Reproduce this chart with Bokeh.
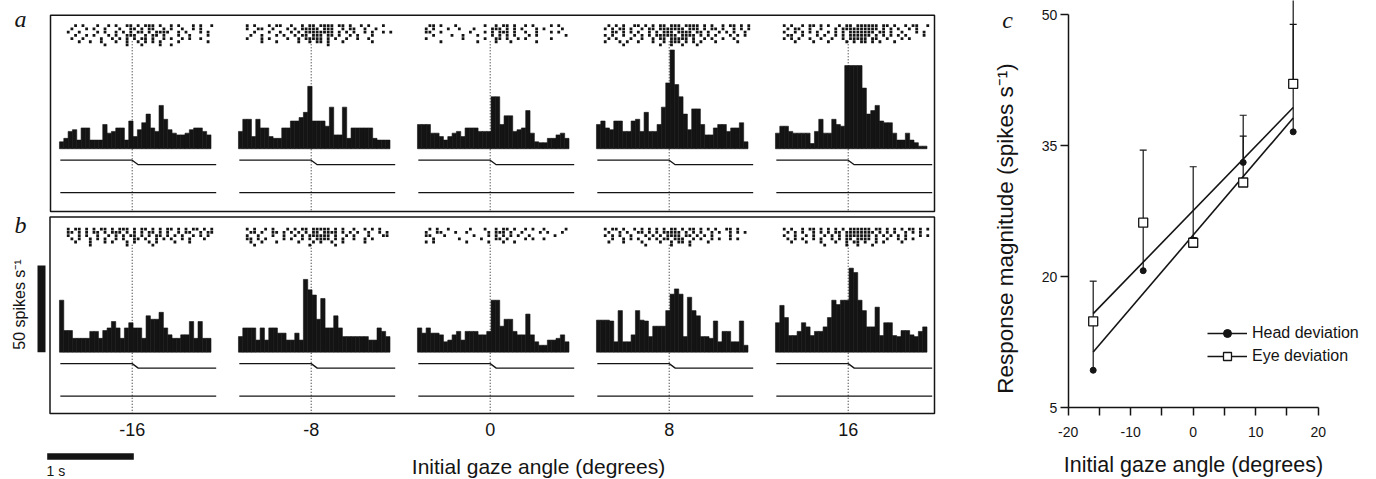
import numpy as np
from bokeh.plotting import figure
from bokeh.layouts import row
from bokeh.models import Range1d, FixedTicker, Legend, LegendItem
from bokeh.core.properties import value
from bokeh.embed import file_html
from bokeh.resources import INLINE

# ---------------- data: panels a / b ----------------
GAZE = [-16, -8, 0, 8, 16]          # initial gaze angle (deg)
BIN_START = -0.84                    # s, histogram start relative to saccade
BIN_W = 0.05                         # s
# peri-saccadic histograms (spikes/s), head deviation (a)
HIST_A = [
    [4, 6, 10, 11, 5, 12, 12, 5, 5, 5, 14, 9, 10, 12, 12, 5, 16, 7, 11, 15, 20, 12, 10, 25, 17, 11, 9, 8, 8, 9, 11, 12, 12, 10, 8],
    [10, 17, 17, 7, 17, 12, 12, 7, 6, 6, 12, 12, 16, 16, 18, 21, 36, 16, 16, 16, 13, 24, 8, 8, 24, 6, 12, 12, 12, 12, 12, 6, 5, 5, 5],
    [14, 14, 14, 9, 9, 7, 5, 7, 9, 10, 7, 12, 12, 12, 10, 10, 10, 30, 30, 14, 19, 19, 10, 11, 12, 22, 9, 4, 3.5, 3.5, 6, 6, 8, 9, 6],
    [14, 16, 12, 11, 16, 16, 10, 10, 16, 17, 10, 21, 10, 10, 14, 24, 38, 57, 37, 30, 20, 11, 23, 23, 14, 8, 8, 12, 14, 14, 10, 12, 12, 15, 4],
    [9, 13, 13, 10, 9, 9, 9, 9, 3, 10, 17, 9, 9, 17, 14, 13, 48, 48, 48, 48, 35, 20, 22, 25, 16, 15, 15, 9, 5, 5, 9, 5, 3.5, 1.5, 1.5],
]
# eye deviation (b)
HIST_B = [
    [30, 12.5, 12.5, 8, 8, 8, 8, 12, 12, 8, 12.5, 14, 17.7, 14, 8, 14, 17, 14, 14, 8, 21, 19, 19, 23, 14, 10, 8, 8, 10, 10, 17.7, 8, 17.7, 8, 8],
    [9, 14, 14, 14, 7, 14, 7, 14, 14, 11, 11, 7, 7, 11, 7, 42, 36, 33, 19, 31, 14, 14, 21, 14, 9, 9, 9, 9, 9, 9, 7, 7, 14, 12, 9],
    [14, 11, 14, 11, 11, 10, 6, 7, 10, 12, 7, 12, 12, 12, 10, 10, 12, 30, 30, 15, 19, 19, 12, 10, 10, 22, 10, 6, 4, 4, 7, 7, 8, 10, 6],
    [18.5, 18.5, 18.5, 18, 6, 24, 6, 6, 10, 24, 18.5, 18, 9, 15, 15, 15, 24, 33.5, 36.5, 33.5, 9, 31.7, 24, 21, 9, 9, 8, 18, 6, 12, 12, 6, 6, 18, 4],
    [17, 27, 20, 9.6, 9.6, 12, 17, 14.6, 9.6, 12, 12, 14.6, 20, 30, 27.5, 30, 30, 48.5, 46, 30, 24, 14.6, 14.6, 26, 9.6, 17, 17, 9.6, 9, 12.5, 12.5, 10, 9, 12, 14.6],
]
# spike rasters ('#' = spike), one string per trial, 42.5 ms per character
RASTER_T0 = -0.76
RASTER_DT = 0.0425
RASTER_A = [
    ["..#.#...#..#.#..##.#.###.#..#.#...#.#..#",
     ".#...#.#..#...#..##.#.##..#.#..#..#.#...",
     "#..#....#.#..#.#.#.##.#.####..#.#...#.#.",
     "..#..#.#...#.#..###..#.##.#...#..#....#.",
     ".#..#....#..#.#.#.#.##.#..#.#..#.#..#...",
     "...#..#..#...#..#..#.#.#.#....#.......#.",
     "..........#.....#...#....#..#..........."],
    ["#.#...#.##..#..#.##.####.##.#..#.#...#..",
     "#..##..#...#.#.#####.###..#.##..#..#....",
     "..#...#..#..#.#.########.#.#.#..#.#..#.#",
     ".#..#...#.#..#.##.###.##.#..#.#...#.....",
     "#...#.#....#..#.#####.#.#..#..#..#......",
     "....#...#.....#..#.##.#...#.......#.....",
     "......................#................."],
    [".##.#...#.......#..#.##.#..#.#....#.#...",
     "#.#...#..#...#....###.#.#.#...#.#....#..",
     "##..#.......#...#.#.###.#..#..#...#.#...",
     "..#....#..#...#...#.#.#.#...#.#.......#.",
     "#.........#.....#..##.#..#.#......#.....",
     "....#.........#....#...#......#........."],
    [".#.#.#..##.#.#.##.###.####.#.#..#.##.#.#",
     "#.#.##.#..#.##.#######.###.#.##.#..#.#.#",
     "..##.#.#.#..#.#.###.####.##.#..#.#.#..#.",
     "#.#..#..#.#.#.######.####.#.#.#...#.#.#.",
     ".#.#...#..#..#.##.#####.#..#.#..#..#....",
     "#...#.#..#...#..#.###.#.#.#...#.....#...",
     ".....#.........#..#..#...#.............."],
    ["#.#..#.##.#.#..#.##.######.##.#..#.##..#",
     ".#.##..#..#...#.##########.#.#.#..#.#...",
     "#..#.#.#.#..#.#.#.#######.##.#..#...#.#.",
     ".##..#...#.#..#.#.######.#.#.#.#.#....#.",
     "#.#.#..#..#..#..#.#####.##..#...#.#.....",
     "...#....#...#....#.#.##.#.#...#........."],
]
RASTER_B = [
    ["#.##.#.#.##.#.###.#.##.#.#.##.#.#.##.#.#",
     "##.#.#.##.#.###.#.#.#.##.#.#..#.##..#.##",
     "#..#.#..#..#.#.#.##.#.#.##.#.#.#..#.#.#.",
     ".#.#..#.#.#..#.#..##.#..#.#.#..#.#...#..",
     "..#...#...#.#...#.#...#.#....#...#......",
     "......#.........#......#................"],
    ["#.#..#.#...#.#.##.#####.#.#..#..#.#.#...",
     ".##.#..##.#.#.#.#.##.####.#.#.#..#..#.#.",
     "#..#...#..#..#.#.######.#..#.#...#...##.",
     "##.#.#....#.#..#.#.####.#.#..#..#.#.....",
     ".#..#...#.....#...#.#..#..#.....#.......",
     "..#..............#......#..............."],
    [".#.#..#.....#...#..#.##.#..#.#..#.....#.",
     "#..##...#..#.....#.###.#..#....#.#...#..",
     "##...#.......#...#.#.#.#.#..#......#....",
     "..#......#.....#...##.#....#.#..#.......",
     "#.#........#.....#...#..#..............."],
    ["#.##.#..#.#.#.#.#.##.#.##.#.#.#..##.#...",
     ".#..#.#..##.#.#.#####.#.#.#..#.#..#.#.#.",
     "#.#.#..#...#.#.#.####.##.#.#.#....#.....",
     "..#..#.#.#..#.#.##.###..#.#..#.#..#.#...",
     ".#...#....#....#..#.##.#....#...........",
     "...........#......#....#................"],
    ["#.#..#.##.#.#.#.#.######.##.#.#.#.##.#.#",
     ".#.#.#..#.#.#.##.########.#.#.#..#.#.#..",
     "#..#..#.#..#.#.#.#######.#.#.#.#.#...#.#",
     ".#.#.#..#.#..#.#.##.####.#..#..#.#.#....",
     "..#...#...#...#..#.##.#..#.#....#.......",
     "...........#.....#..#...#..............."],
]
# head (upper) and eye (lower) position traces, arbitrary units
TRACE_T = [-0.83, 0.0, 0.07, 0.97]
TRACE_HI = [-6.6, -6.6, -9.2, -9.2]
TRACE_LO_T = [-0.83, 0.97]
TRACE_LO = [-25.3, -25.3]

# ---------------- data: panel c ----------------
HEAD = [9.3, 20.7, 24.2, 33.1, 36.6]
HEAD_ERR_TOP = [15.0, 26.0, 24.5, 36.1, 48.9]
EYE = [14.9, 26.2, 23.9, 30.8, 42.1]
EYE_ERR_TOP = [19.5, 34.5, 32.6, 38.5, 54.0]

INK = "#141414"
SANS = "Liberation Sans"
SERIF = "Liberation Serif"

# ---------------- layout helpers (left figure, page pixels -> data) ----------------
PX_PER_S = 86.6      # px per second
PX_PER_U = 1.733     # px per spike/s
C0 = 131.7           # page x of first panel's saccade time
Y0 = 351.7           # page y of panel-b baseline
SPACING_S = 179.0 / PX_PER_S
ROW_BASE = [117.4, 0.0]
W_LEFT, W_RIGHT, H = 960, 416, 479


def sx(px):
    return (px - C0) / PX_PER_S


def sy(py):
    return (Y0 - py) / PX_PER_U


def no_align(fig):
    try:
        fig.frame_align = False
    except Exception:
        pass


p = figure(width=W_LEFT, height=H, x_range=Range1d(sx(0), sx(W_LEFT)),
           y_range=Range1d(sy(H), sy(0)), x_axis_type=None, y_axis_type=None,
           output_backend="svg", toolbar_location=None, min_border=0,
           outline_line_color=None)
no_align(p)

# boxes around rows a and b
p.quad(left=[sx(50), sx(49.5)], right=[sx(934), sx(934)],
       top=[sy(14.7), sy(216.5)], bottom=[sy(211), sy(413)],
       fill_color=None, line_color=INK, line_width=1.5)

box_bottom = [sy(211), sy(413)]
offs = [i * SPACING_S for i in range(len(GAZE))]

# dotted saccade-onset lines
sx0, sy0, sx1, sy1 = [], [], [], []
for ri, base in enumerate(ROW_BASE):
    for off in offs:
        sx0.append(off); sx1.append(off)
        sy0.append(base + 62); sy1.append(box_bottom[ri])
p.segment(x0=sx0, y0=sy0, x1=sx1, y1=sy1, line_color=INK, line_width=1,
          line_dash="1 2")

# histograms
L, R, T, B = [], [], [], []
for ri, hists in enumerate([HIST_A, HIST_B]):
    base = ROW_BASE[ri]
    for pi, hist in enumerate(hists):
        for k, h in enumerate(hist):
            left = offs[pi] + BIN_START + k * BIN_W
            L.append(left); R.append(left + BIN_W)
            B.append(base); T.append(base + h)
p.quad(left=L, right=R, top=T, bottom=B, fill_color=INK, line_color=INK,
       line_width=0.6)

# traces
xs, ys = [], []
for base in ROW_BASE:
    for off in offs:
        xs.append([off + t for t in TRACE_T]); ys.append([base + v for v in TRACE_HI])
        xs.append([off + t for t in TRACE_LO_T]); ys.append([base + v for v in TRACE_LO])
p.multi_line(xs=xs, ys=ys, line_color=INK, line_width=1.3)

# rasters
rx, ry = [], []
for ri, rasters in enumerate([RASTER_A, RASTER_B]):
    base = ROW_BASE[ri]
    for pi, rows in enumerate(rasters):
        for r, line in enumerate(rows):
            for c, ch in enumerate(line):
                if ch == "#":
                    rx.append(offs[pi] + RASTER_T0 + (c + 0.5) * RASTER_DT)
                    ry.append(base + 71.0 - r * 1.85)
p.scatter(rx, ry, marker="square", size=2.8, fill_color=INK, line_color=None)

# scale bars
p.quad(left=[sx(37)], right=[sx(45)], bottom=[0], top=[50], fill_color=INK,
       line_color=None)
p.quad(left=[sx(46.7)], right=[sx(46.7) + 1.0], bottom=[sy(459.3)], top=[sy(452.7)],
       fill_color=INK, line_color=None)
p.text(x=[sx(19)], y=[sy(304)], text=["50 spikes s\u207b\u00b9"], angle=np.pi / 2,
       text_align="center", text_baseline="middle", text_font=value(SANS),
       text_font_size="16px", text_color=INK)
p.text(x=[sx(46)], y=[sy(470)], text=["1 s"], text_align="left",
       text_baseline="middle", text_font=value(SANS), text_font_size="14px",
       text_color=INK)

# gaze-angle labels and axis title
p.text(x=offs, y=[sy(429)] * len(GAZE), text=[str(g) for g in GAZE],
       text_align="center", text_baseline="middle", text_font=value(SANS),
       text_font_size="18px", text_color=INK)
p.text(x=[sx(538)], y=[sy(466)], text=["Initial gaze angle (degrees)"],
       text_align="center", text_baseline="middle", text_font=value(SANS),
       text_font_size="21px", text_color=INK)

# panel letters
p.text(x=[sx(20), sx(20)], y=[sy(18), sy(224)], text=["a", "b"],
       text_align="center", text_baseline="middle", text_font=value(SERIF),
       text_font_style="italic", text_font_size="24px", text_color=INK)

# ---------------- panel c ----------------
CX_PX = 6.25          # px per degree
CY_PX = 8.733         # px per spike/s
CX0 = 1067.7 - W_LEFT  # figure x of gaze = -20
CY0 = 407.3           # figure y of response = 5


def cx(px):
    return -20 + (px - CX0) / CX_PX


def cy(py):
    return 5 + (CY0 - py) / CY_PX


pc = figure(width=W_RIGHT, height=H, x_range=Range1d(cx(0), cx(W_RIGHT)),
            y_range=Range1d(cy(H), cy(0)), output_backend="svg",
            toolbar_location=None, min_border=0, outline_line_color=None)
no_align(pc)
pc.grid.visible = False
pc.xaxis.fixed_location = 5
pc.yaxis.fixed_location = -20
pc.xaxis.ticker = FixedTicker(ticks=[-20, -10, 0, 10, 20], minor_ticks=[-15, -5, 5, 15])
pc.yaxis.ticker = FixedTicker(ticks=[5, 20, 35, 50])
pc.xaxis.bounds = (-20, 20)
pc.yaxis.bounds = (5, 50)
pc.xaxis.major_label_overrides = {-20: "-20", -10: "-10", 0: "0", 10: "10", 20: "20"}
for ax in (pc.xaxis, pc.yaxis):
    ax.axis_line_color = INK
    ax.axis_line_width = 1.5
    ax.major_tick_line_color = INK
    ax.major_tick_line_width = 1.5
    ax.minor_tick_line_color = INK
    ax.minor_tick_line_width = 1.5
    ax.major_tick_in = 0
    ax.major_tick_out = 8
    ax.minor_tick_in = 0
    ax.major_label_text_font = SANS
    ax.major_label_text_font_size = "14px"
    ax.major_label_text_color = INK
    ax.axis_label_text_font = SANS
    ax.axis_label_text_font_style = "normal"
    ax.axis_label_text_font_size = "21.5px"
    ax.axis_label_text_color = INK
pc.xaxis.minor_tick_out = 8
pc.yaxis.minor_tick_out = 0
pc.xaxis.major_label_standoff = 11
pc.yaxis.major_label_standoff = 3
pc.xaxis.axis_label = "Initial gaze angle (degrees)"
pc.xaxis.axis_label_standoff = 13

# y-axis title, centred where the reference places it
pc.text(x=[cx(1005 - W_LEFT)], y=[cy(228)], text=["Response magnitude (spikes s\u207b\u00b9)"],
        angle=np.pi / 2, text_align="center", text_baseline="middle",
        text_font=value(SANS), text_font_size="22.5px", text_color=INK)

# regression lines computed from the data
xfit = np.array([min(GAZE), max(GAZE)], dtype=float)
hk = np.polyfit(GAZE, HEAD, 1)
ek = np.polyfit(GAZE, EYE, 1)
head_line = pc.line(xfit, np.polyval(hk, xfit), line_color=INK, line_width=1.6)
eye_line = pc.line(xfit, np.polyval(ek, xfit), line_color=INK, line_width=1.6)

# error bars (upper)
pc.segment(x0=GAZE, x1=GAZE, y0=HEAD, y1=HEAD_ERR_TOP, line_color=INK, line_width=1.2)
pc.segment(x0=GAZE, x1=GAZE, y0=EYE, y1=EYE_ERR_TOP, line_color=INK, line_width=1.2)
pc.scatter(GAZE, HEAD_ERR_TOP, marker="dash", size=7, line_color=INK, line_width=1.2)
pc.scatter(GAZE, EYE_ERR_TOP, marker="dash", size=7, line_color=INK, line_width=1.2)

head_pts = pc.scatter(GAZE, HEAD, marker="circle", size=6, fill_color=INK, line_color=INK)
eye_pts = pc.scatter(GAZE, EYE, marker="square", size=9, fill_color="white",
                     line_color=INK, line_width=1.3)

legend = Legend(items=[LegendItem(label="Head deviation", renderers=[head_line, head_pts]),
                       LegendItem(label="Eye deviation", renderers=[eye_line, eye_pts])],
                location=(int(round(1206.7 - W_LEFT)), H - 366), glyph_width=40,
                glyph_height=20, label_height=20, spacing=3, padding=0, margin=0,
                label_standoff=5, label_text_font=SANS, label_text_font_size="16px",
                label_text_color=INK, border_line_color=None,
                background_fill_alpha=0)
pc.add_layout(legend)

# panel letter c
pc.text(x=[cx(1007 - W_LEFT)], y=[cy(19)], text=["c"], text_align="center",
        text_baseline="middle", text_font=value(SERIF), text_font_style="italic",
        text_font_size="24px", text_color=INK)

layout = row(p, pc)
open("out.html", "w").write(file_html(layout, INLINE))
